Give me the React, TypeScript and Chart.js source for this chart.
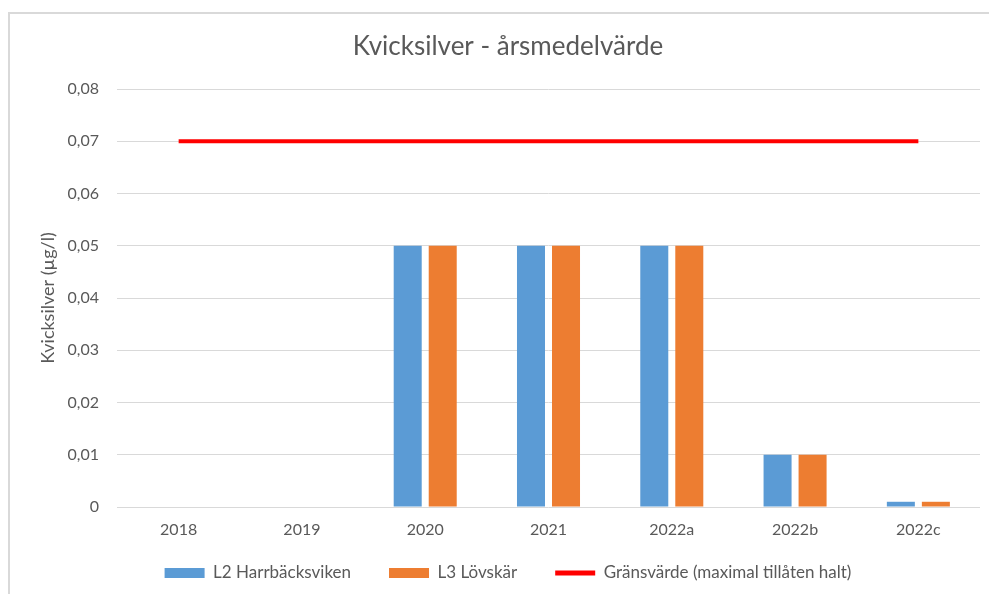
import React, { useEffect, useRef } from "react";
import { Chart, registerables } from "chart.js";

Chart.register(...registerables);

const categories = ["2018", "2019", "2020", "2021", "2022a", "2022b", "2022c"];
const harrbacksviken = [0, 0, 0.05, 0.05, 0.05, 0.01, 0.001];
const lovskar = [0, 0, 0.05, 0.05, 0.05, 0.01, 0.001];
const gransvarde = [0.07, 0.07, 0.07, 0.07, 0.07, 0.07, 0.07];
const yTickLabels = ["0", "0,01", "0,02", "0,03", "0,04", "0,05", "0,06", "0,07", "0,08"];
const seriesNames = ["L2 Harrbäcksviken", "L3 Lövskär", "Gränsvärde (maximal tillåten halt)"];
const chartTitle = "Kvicksilver - årsmedelvärde";
const yAxisTitle = "Kvicksilver (µg/l)";

const BLUE = "#5b9bd5";
const ORANGE = "#ed7d31";
const RED = "#ff0000";
const TEXT = "#595959";
const GRID = "#d9d9d9";
const FONT = "Lato, Carlito, Calibri, sans-serif";

export default function App() {
  const canvasRef = useRef<HTMLCanvasElement | null>(null);

  useEffect(() => {
    const canvas = canvasRef.current;
    if (!canvas) return;
    const chart = new Chart(canvas, {
      type: "bar",
      data: {
        labels: categories,
        datasets: [
          {
            type: "bar",
            label: seriesNames[0],
            data: harrbacksviken,
            backgroundColor: BLUE,
            borderWidth: 0,
            order: 2,
          },
          {
            type: "bar",
            label: seriesNames[1],
            data: lovskar,
            backgroundColor: ORANGE,
            borderWidth: 0,
            order: 2,
          },
          {
            type: "line",
            label: seriesNames[2],
            data: gransvarde,
            borderColor: RED,
            backgroundColor: RED,
            borderWidth: 4,
            pointRadius: 0,
            fill: false,
            order: 1,
          } as any,
        ],
      },
      options: {
        responsive: false,
        animation: false,
        devicePixelRatio: 1,
        layout: { padding: { left: 36, right: 9, top: 0, bottom: 2.5 } },
        datasets: {
          bar: { categoryPercentage: 0.568, barPercentage: 0.8 },
        } as any,
        plugins: {
          tooltip: { enabled: false },
          title: {
            display: true,
            text: chartTitle,
            color: TEXT,
            font: { family: FONT, size: 26, weight: "normal" },
            padding: { top: 31.4, bottom: 26.4 },
          },
          legend: {
            display: true,
            position: "bottom",
            labels: {
              color: TEXT,
              font: { family: FONT, size: 17 },
              usePointStyle: true,
              pointStyleWidth: 40,
              boxHeight: 10,
              padding: 38,
              generateLabels: (c: any) =>
                c.data.datasets.map((ds: any, i: number) => ({
                  text: ds.label,
                  fillStyle: i === 2 ? RED : ds.backgroundColor,
                  strokeStyle: i === 2 ? RED : ds.backgroundColor,
                  lineWidth: i === 2 ? 5 : 0,
                  pointStyle: i === 2 ? "line" : "rect",
                  hidden: false,
                  datasetIndex: i,
                  fontColor: TEXT,
                })),
            },
          },
        },
        scales: {
          x: {
            grid: { display: false, drawTicks: false },
            border: { display: false },
            ticks: {
              color: TEXT,
              font: { family: FONT, size: 16 },
              mirror: true,
              padding: -32.6,
              maxRotation: 0,
            },
            afterFit: (s: any) => {
              s.height = 19.5;
            },
          },
          y: {
            min: 0,
            max: 0.08,
            grid: { color: GRID, lineWidth: 1, drawTicks: false },
            border: { display: false },
            ticks: {
              stepSize: 0.01,
              color: TEXT,
              font: { family: FONT, size: 16 },
              padding: 18,
              callback: (_v: any, i: number) => yTickLabels[i],
            },
            title: {
              display: true,
              text: yAxisTitle,
              color: TEXT,
              font: { family: FONT, size: 18, weight: "normal" },
              padding: { top: 1.2, bottom: 0 },
            },
            afterFit: (s: any) => {
              s.width = 81;
            },
          },
        },
      },
    });
    return () => chart.destroy();
  }, []);

  return (
    <div
      style={{
        position: "absolute",
        left: 0,
        top: 0,
        width: 989,
        height: 594,
        overflow: "hidden",
        background: "#ffffff",
      }}
    >
      <div
        style={{
          position: "absolute",
          left: 8,
          top: 12,
          width: 1100,
          height: 700,
          border: "2px solid #d9d9d9",
          boxSizing: "border-box",
        }}
      />
      <canvas
        ref={canvasRef}
        width={989}
        height={594}
        style={{ position: "absolute", left: 0, top: 0, width: 989, height: 594 }}
      />
    </div>
  );
}
